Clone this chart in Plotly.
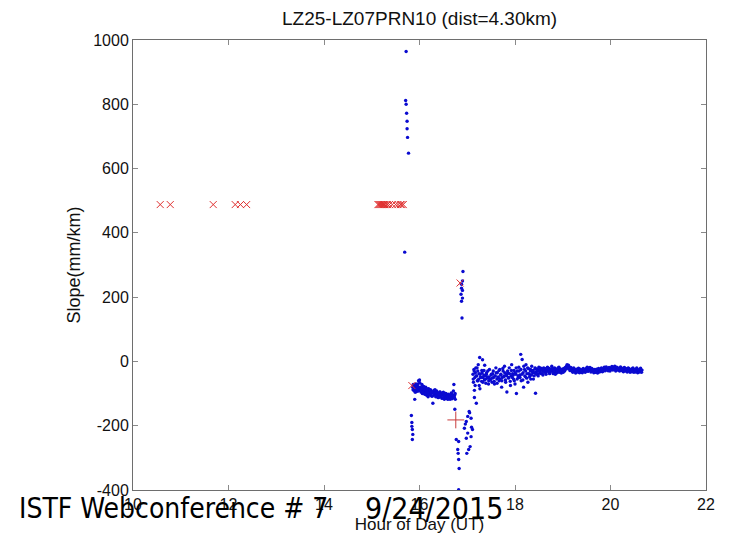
import plotly.graph_objects as go

# ---------------- data ----------------
title_text = "LZ25-LZ07PRN10 (dist=4.30km)"
x_title = "Hour of Day (UT)"
y_title = "Slope(mm/km)"
x_ticks = [10, 12, 14, 16, 18, 20, 22]
y_ticks = [-400, -200, 0, 200, 400, 600, 800, 1000]

# blue dots: spike near 15.7 h
spike1_hour = [15.72, 15.71, 15.72, 15.73, 15.74, 15.74, 15.75, 15.77, 15.69]
spike1_slope = [964, 812, 800, 772, 747, 724, 697, 648, 340]

# blue dots: low group at 15.84 h
low1_hour = [15.83, 15.84, 15.84, 15.85, 15.86, 15.85]
low1_slope = [-168, -190, -202, -212, -227, -243]

# blue dots: cluster 15.85 - 16.75 h
clus_hour = [15.86, 15.87, 15.88, 15.89, 15.90, 15.91, 15.92, 15.93, 15.94, 15.95,
             15.96, 15.97, 15.98, 15.99, 16.00, 16.01, 16.02, 16.03, 16.04, 16.05,
             16.06, 16.07, 16.08, 16.09, 16.10, 16.11, 16.12, 16.13, 16.14, 16.15,
             16.16, 16.17, 16.18, 16.19, 16.20, 16.21, 16.22, 16.23, 16.24, 16.25,
             16.26, 16.28, 16.29, 16.30, 16.31, 16.32, 16.34, 16.35, 16.36, 16.38,
             16.39, 16.40, 16.42, 16.43, 16.44, 16.46, 16.47, 16.48, 16.50, 16.51,
             16.52, 16.54, 16.55, 16.56, 16.58, 16.59, 16.60, 16.62, 16.63, 16.64,
             16.66, 16.67, 16.68, 16.70, 16.71, 16.72, 16.73, 16.74, 16.75]
clus_slope = [-80, -72, -90, -85, -118, -78, -95, -82, -88, -75,
              -92, -70, -60, -84, -58, -90, -80, -95, -86, -72,
              -100, -88, -78, -94, -83, -102, -90, -80, -96, -105,
              -88, -92, -110, -85, -98, -93, -104, -88, -100, -95,
              -108, -130, -98, -90, -104, -96, -110, -100, -92, -106,
              -98, -112, -102, -95, -108, -100, -115, -104, -96, -110,
              -118, -105, -100, -112, -108, -118, -102, -114, -106, -118,
              -110, -100, -116, -108, -92, -72, -112, -104, -118]
clus2_hour = [15.865, 15.885, 15.905, 15.925, 15.945, 15.965, 15.985, 16.005, 16.025, 16.045,
              16.065, 16.085, 16.105, 16.125, 16.145, 16.165, 16.185, 16.205, 16.225, 16.245,
              16.265, 16.285, 16.305, 16.325, 16.345, 16.365, 16.385, 16.405, 16.425, 16.445,
              16.465, 16.485, 16.505, 16.525, 16.545, 16.565, 16.585, 16.605, 16.625, 16.645,
              16.665, 16.685, 16.705, 16.725, 16.745]
clus2_slope = [-88, -76, -95, -70, -85, -92, -80, -66, -90, -84,
               -96, -78, -88, -100, -92, -86, -98, -104, -90, -96,
               -108, -94, -100, -88, -106, -98, -112, -102, -96, -110,
               -104, -98, -114, -106, -100, -112, -108, -116, -104, -110,
               -98, -114, -106, -110, -100]

# blue dots: spike near 16.9 h
spike2_hour = [16.91, 16.90, 16.88, 16.90, 16.87, 16.90, 16.88, 16.89, 16.88]
spike2_slope = [280, 250, 228, 221, 209, 197, 187, 135, 240]

# blue dots: dip 16.75 - 17.1 h
dip_hour = [16.74, 17.04, 17.01, 17.08, 16.98, 16.94, 17.09, 17.11, 17.01, 17.08,
            16.77, 16.82, 16.98, 17.06, 17.03, 16.99, 16.80, 16.81, 16.82, 16.83, 16.82,
            17.05, 16.96]
dip_slope = [-149, -156, -171, -177, -187, -208, -205, -212, -223, -234,
             -243, -249, -239, -265, -274, -286, -274, -286, -305, -333, -399,
             -160, -195]

# blue dots: band 17.1 - 19.0 h
band1_hour = [17.12, 17.13, 17.14, 17.15, 17.15, 17.16, 17.17, 17.18, 17.19, 17.20,
              17.21, 17.22, 17.23, 17.24, 17.25, 17.26, 17.27, 17.28, 17.30, 17.31,
              17.32, 17.33, 17.35, 17.36, 17.38, 17.39, 17.40, 17.42, 17.43, 17.45,
              17.46, 17.48, 17.50, 17.52, 17.53, 17.55, 17.57, 17.58, 17.60, 17.62,
              17.63, 17.65, 17.67, 17.68, 17.70, 17.72, 17.73, 17.75, 17.77, 17.78,
              17.80, 17.82, 17.83, 17.85, 17.87, 17.88, 17.90, 17.92, 17.93, 17.95,
              17.97, 17.98, 18.00, 18.02, 18.03, 18.05, 18.07, 18.08, 18.10, 18.12,
              18.13, 18.15, 18.17, 18.18, 18.20, 18.22, 18.23, 18.25, 18.27, 18.28,
              18.30, 18.32, 18.33, 18.35, 18.37, 18.38, 18.40, 18.42, 18.43, 18.45,
              18.47, 18.48, 18.50, 18.52, 18.53, 18.55, 18.57, 18.58, 18.60, 18.62,
              18.63, 18.65, 18.67, 18.68, 18.70, 18.72, 18.73, 18.75, 18.77, 18.78,
              18.80, 18.82, 18.83, 18.85, 18.87, 18.88, 18.90, 18.92, 18.93, 18.95,
              18.97, 18.98]
band1_slope = [-40, -65, -25, -90, -112, -50, -35, -20, -130, -45,
               -60, -30, -10, -55, -75, 12, -40, -48, -62, -35,
               5, -50, -28, -58, -45, -68, -40, -52, -30, -60,
               -48, -55, -42, -65, -38, -50, -70, -45, -20, -55,
               -35, -48, -60, -25, -42, -80, -50, -30, -45, -15,
               -58, -40, -95, -35, -50, -20, -62, -45, -10, -38,
               -55, -28, -70, -40, -100, -30, -50, -18, -42, 22,
               -60, 6, -35, -80, -25, -48, -10, -38, -65, -22,
               -40, -30, -55, -15, -35, -28, -45, -20, -99, -32,
               -25, -40, -18, -35, -28, -22, -38, -30, -20, -33,
               -25, -40, -28, -18, -30, -22, -35, -27, -15, -30,
               -38, -24, -20, -32, -28, -35, -25, -18, -22, -30,
               -36, -28]
band1b_hour = [17.125, 17.145, 17.165, 17.185, 17.205, 17.225, 17.245, 17.265, 17.285, 17.305,
               17.325, 17.345, 17.365, 17.385, 17.405, 17.425, 17.445, 17.465, 17.485, 17.505,
               17.525, 17.545, 17.565, 17.585, 17.605, 17.625, 17.645, 17.665, 17.685, 17.705,
               17.725, 17.745, 17.765, 17.785, 17.805, 17.825, 17.845, 17.865, 17.885, 17.905,
               17.925, 17.945, 17.965, 17.985, 18.005, 18.025, 18.045, 18.065, 18.085, 18.105,
               18.125, 18.145, 18.165, 18.185, 18.205, 18.225, 18.245, 18.265, 18.285, 18.305,
               18.325, 18.345, 18.365, 18.385, 18.405, 18.425, 18.445, 18.465, 18.485, 18.505,
               18.525, 18.545, 18.565, 18.585, 18.605, 18.625, 18.645, 18.665, 18.685, 18.705,
               18.725, 18.745, 18.765, 18.785, 18.805, 18.825, 18.845, 18.865, 18.885, 18.905,
               18.925, 18.945, 18.965, 18.985]
band1b_slope = [-55, -30, -75, -45, -20, -60, -38, -85, -50, -28,
                -65, -42, -12, -55, -35, -48, -70, -25, -58, -40,
                -52, -30, -62, -45, -35, -68, -50, -28, -55, -40,
                -60, -22, -48, -35, -65, -45, -30, -52, -38, -75,
                -28, -50, -42, -60, -35, -20, -55, -45, -30, -50,
                -25, -40, -58, -15, -45, -30, -52, -20, -38, -48,
                -25, -42, -30, -55, -35, -22, -40, -28, -45, -30,
                -20, -38, -26, -42, -30, -22, -35, -28, -20, -32,
                -38, -25, -30, -22, -35, -28, -40, -24, -30, -20,
                -34, -26, -31, -24]

# blue dots: tight band 19.0 - 20.66 h (two rows of dots)
band2_hour = [19.00, 19.02, 19.04, 19.06, 19.08, 19.10, 19.12, 19.14, 19.16, 19.18,
              19.20, 19.22, 19.24, 19.26, 19.28, 19.30, 19.32, 19.34, 19.36, 19.38,
              19.40, 19.42, 19.44, 19.46, 19.48, 19.50, 19.52, 19.54, 19.56, 19.58,
              19.60, 19.62, 19.64, 19.66, 19.68, 19.70, 19.72, 19.74, 19.76, 19.78,
              19.80, 19.82, 19.84, 19.86, 19.88, 19.90, 19.92, 19.94, 19.96, 19.98,
              20.00, 20.02, 20.04, 20.06, 20.08, 20.10, 20.12, 20.14, 20.16, 20.18,
              20.20, 20.22, 20.24, 20.26, 20.28, 20.30, 20.32, 20.34, 20.36, 20.38,
              20.40, 20.42, 20.44, 20.46, 20.48, 20.50, 20.52, 20.54, 20.56, 20.58,
              20.60, 20.62, 20.64, 20.66]
band2_slope = [-28, -22, -30, -18, -15, -20, -12, -18, -25, -22,
               -28, -24, -30, -26, -32, -28, -25, -30, -27, -33,
               -29, -26, -31, -28, -24, -22, -26, -20, -24, -28,
               -25, -30, -27, -31, -28, -33, -29, -26, -30, -27,
               -24, -28, -25, -22, -26, -23, -20, -24, -27, -23,
               -20, -24, -21, -18, -22, -26, -23, -20, -24, -27,
               -23, -20, -25, -28, -24, -21, -26, -29, -25, -22,
               -27, -30, -26, -23, -28, -31, -27, -24, -29, -32,
               -28, -25, -30, -27]
band3_hour = [19.01, 19.03, 19.05, 19.07, 19.09, 19.11, 19.13, 19.15, 19.17, 19.19,
              19.21, 19.23, 19.25, 19.27, 19.29, 19.31, 19.33, 19.35, 19.37, 19.39,
              19.41, 19.43, 19.45, 19.47, 19.49, 19.51, 19.53, 19.55, 19.57, 19.59,
              19.61, 19.63, 19.65, 19.67, 19.69, 19.71, 19.73, 19.75, 19.77, 19.79,
              19.81, 19.83, 19.85, 19.87, 19.89, 19.91, 19.93, 19.95, 19.97, 19.99,
              20.01, 20.03, 20.05, 20.07, 20.09, 20.11, 20.13, 20.15, 20.17, 20.19,
              20.21, 20.23, 20.25, 20.27, 20.29, 20.31, 20.33, 20.35, 20.37, 20.39,
              20.41, 20.43, 20.45, 20.47, 20.49, 20.51, 20.53, 20.55, 20.57, 20.59,
              20.61, 20.63, 20.65]
band3_slope = [-34, -26, -20, -24, -10, -16, -22, -28, -19, -30,
               -34, -20, -26, -36, -24, -33, -21, -35, -24, -29,
               -35, -22, -27, -34, -30, -18, -31, -25, -19, -33,
               -22, -26, -35, -25, -34, -24, -36, -22, -33, -31,
               -20, -32, -30, -18, -29, -17, -26, -29, -19, -30,
               -25, -16, -27, -24, -15, -30, -18, -27, -21, -30,
               -17, -28, -22, -32, -19, -30, -23, -33, -20, -29,
               -34, -24, -32, -20, -34, -25, -33, -20, -35, -26,
               -33, -21, -34]

# red x markers
redx_hour = [10.57, 10.78, 11.68, 12.14, 12.25, 12.38,
             15.13, 15.15, 15.17, 15.19, 15.21, 15.23, 15.25, 15.27, 15.30,
             15.33, 15.37, 15.43, 15.50, 15.55, 15.60, 15.63, 15.66,
             15.84, 16.85]
redx_slope = [488, 488, 488, 488, 488, 488,
              488, 488, 488, 488, 488, 488, 488, 488, 488,
              488, 488, 488, 488, 488, 488, 488, 488,
              -75, 244]

# red + marker
redp_hour = [16.76]
redp_slope = [-182]

footer_left = "ISTF Webconference # 7"
footer_right = "9/24/2015"

# ---------------- figure ----------------
blue_hour = (spike1_hour + low1_hour + clus_hour + clus2_hour + spike2_hour + dip_hour
             + band1_hour + band1b_hour + band2_hour + band3_hour)
blue_slope = (spike1_slope + low1_slope + clus_slope + clus2_slope + spike2_slope + dip_slope
              + band1_slope + band1b_slope + band2_slope + band3_slope)

fig = go.Figure()
fig.add_trace(go.Scatter(x=blue_hour, y=blue_slope, mode="markers",
                         marker=dict(color="#0a0ad0", size=3.4, line=dict(width=0)),
                         showlegend=False, hoverinfo="skip"))
fig.add_trace(go.Scatter(x=redx_hour, y=redx_slope, mode="markers",
                         marker=dict(symbol="x-thin-open", color="#e03030", size=7,
                                     line=dict(color="#e03030", width=1)),
                         showlegend=False, hoverinfo="skip"))
fig.add_trace(go.Scatter(x=redp_hour, y=redp_slope, mode="markers",
                         marker=dict(symbol="cross-thin-open", color="#c83c3c", size=12,
                                     line=dict(color="#c83c3c", width=1)),
                         showlegend=False, hoverinfo="skip"))

font_main = "Liberation Sans, Arial, Helvetica"
axis_common = dict(showgrid=False, zeroline=False, showline=True, linecolor="#6e6e6e",
                   linewidth=1, mirror="ticks", ticks="inside", ticklen=5,
                   tickcolor="#8a8a8a", automargin=False,
                   tickfont=dict(family=font_main, size=16, color="#111111"))

fig.update_layout(
    template="none",
    width=730, height=535,
    margin=dict(l=133, r=24, t=40, b=45),
    paper_bgcolor="white", plot_bgcolor="white",
    title=dict(text=title_text, x=0.5748, xanchor="center", y=0.966, yanchor="middle",
               font=dict(family=font_main, size=19, color="#111111")),
    xaxis=dict(range=[10, 22], tickvals=x_ticks, ticktext=[str(v) for v in x_ticks],
               title=dict(text=x_title, standoff=5,
                          font=dict(family=font_main, size=17, color="#111111")),
               **axis_common),
    yaxis=dict(range=[-400, 1000], tickvals=y_ticks, ticktext=[str(v) for v in y_ticks],
               title=dict(text=y_title, standoff=7,
                          font=dict(family=font_main, size=18, color="#111111")),
               **axis_common),
)

fig.add_annotation(text=footer_left, xref="paper", yref="paper", x=-0.202, y=-0.042,
                   xanchor="left", yanchor="middle", showarrow=False,
                   font=dict(family="DejaVu Sans Condensed, DejaVu Sans", size=28, color="#000000"))
fig.add_annotation(text=footer_right, xref="paper", yref="paper", x=0.402, y=-0.042,
                   xanchor="left", yanchor="middle", showarrow=False,
                   font=dict(family="DejaVu Sans Condensed, DejaVu Sans", size=30, color="#000000"))

fig.write_html("out.html")
